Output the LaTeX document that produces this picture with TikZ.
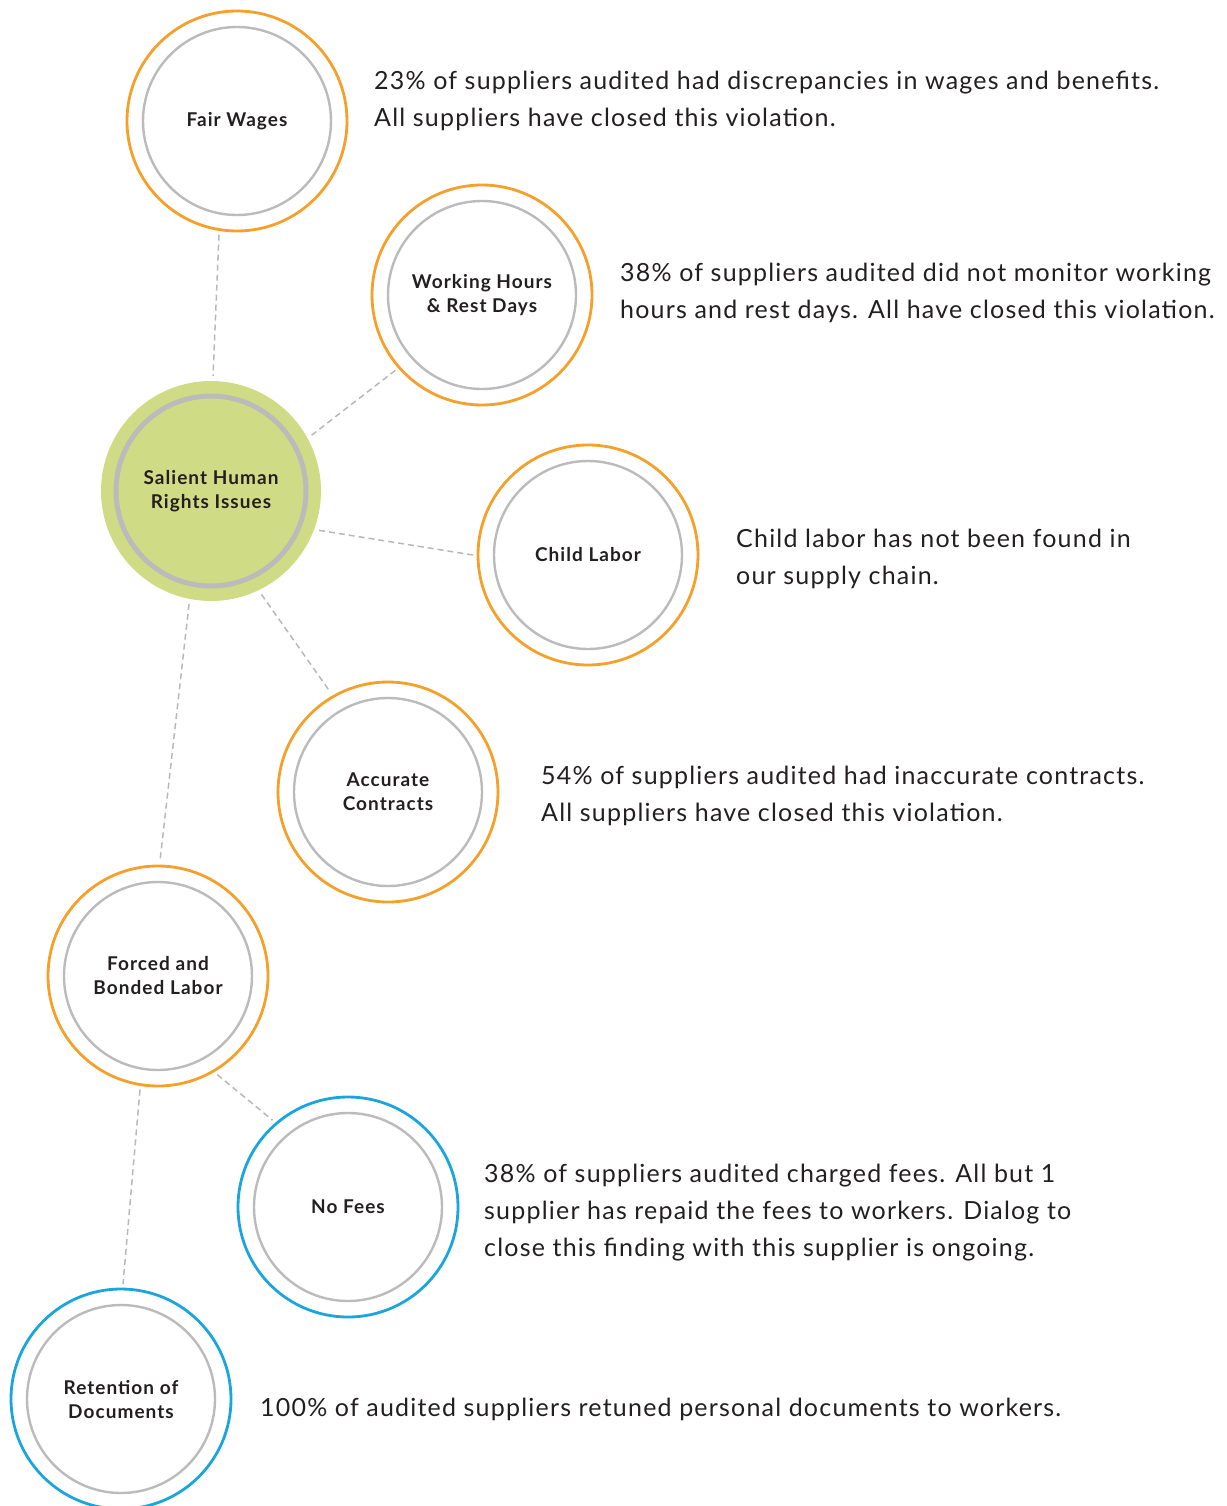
\documentclass[tikz,border=0pt]{standalone}
\usepackage{fontspec}
\setmainfont{Lato}
\newfontfamily\descfont[LetterSpace=4.8]{Lato}
\newfontfamily\labelfont[LetterSpace=5.5]{Lato}
\definecolor{orng}{HTML}{F5A02A}
\definecolor{blu}{HTML}{1AA6DC}
\definecolor{ringgrey}{HTML}{BBBBBB}
\definecolor{grn}{HTML}{CFDC85}
\definecolor{txt}{HTML}{231F20}
\definecolor{dashgrey}{HTML}{B8B8B8}
\begin{document}
\begin{tikzpicture}[x=1pt,y=-1pt,
  issue/.style={circle, minimum size=220pt, inner sep=0pt, outer sep=5pt, line width=2.8pt,
    font=\labelfont\fontsize{19}{24}\selectfont\bfseries, text=txt, align=center},
  orangeissue/.style={issue, draw=orng},
  blueissue/.style={issue, draw=blu},
  centralissue/.style={issue, fill=grn, draw=none},
  innerring/.style={draw=ringgrey, line width=2.4pt},
  centralring/.style={draw=ringgrey, line width=5pt},
  link/.style={draw=dashgrey, line width=1.5pt, dash pattern=on 6pt off 4pt},
  desc/.style={anchor=west, align=left, font=\descfont\fontsize{25}{37}\selectfont, text=txt, inner sep=0pt}]
\useasboundingbox (0,0) rectangle (1226,1506);

% circles
\node[centralissue] (sal) at (211,491) {Salient Human\\Rights Issues};
\draw[centralring] (sal.center) circle[radius=95];

\node[orangeissue] (fw) at (237,121) {Fair Wages};
\node[orangeissue] (wh) at (482,295) {Working Hours\\\& Rest Days};
\node[orangeissue] (cl) at (588,555) {Child Labor};
\node[orangeissue] (ac) at (388,792) {Accurate\\Contracts};
\node[orangeissue] (fb) at (158,976) {Forced and\\Bonded Labor};
\node[blueissue] (nf) at (348,1207) {No Fees};
\node[blueissue] (rd) at (121,1399) {Retention of\\Documents};

\foreach \n in {fw,wh,cl,ac,fb,nf,rd}
  \draw[innerring] (\n.center) circle[radius=94];

% connectors
\draw[link] (fw.261.8) -- (sal.89.5);
\draw[link] (sal.29.6) -- (wh.221.5);
\draw[link] (sal.340) -- (cl.180);
\draw[link] (sal.296.6) -- (ac.120.4);
\draw[link] (sal.259.5) -- (fb.89.5);
\draw[link] (fb.301.4) -- (nf.131.9);
\draw[link] (fb.261.5) -- (rd.89);

% descriptions
\node[desc] (tfw) at (374,101) {23\% of suppliers audited had discrepancies in wages and benefits.\\All suppliers have closed this violation.};
\node[desc] (twh) at (620,293) {38\% of suppliers audited did not monitor working\\hours and rest days. All have closed this violation.};
\node[desc] (tcl) at (736,559) {Child labor has not been found in\\our supply chain.};
\node[desc] (tac) at (541,796) {54\% of suppliers audited had inaccurate contracts.\\All suppliers have closed this violation.};
\node[desc] (tnf) at (484,1213) {38\% of suppliers audited charged fees. All but 1\\supplier has repaid the fees to workers. Dialog to\\close this finding with this supplier is ongoing.};
\node[desc] (trd) at (260,1409) {100\% of audited suppliers retuned personal documents to workers.};
\end{tikzpicture}
\end{document}
